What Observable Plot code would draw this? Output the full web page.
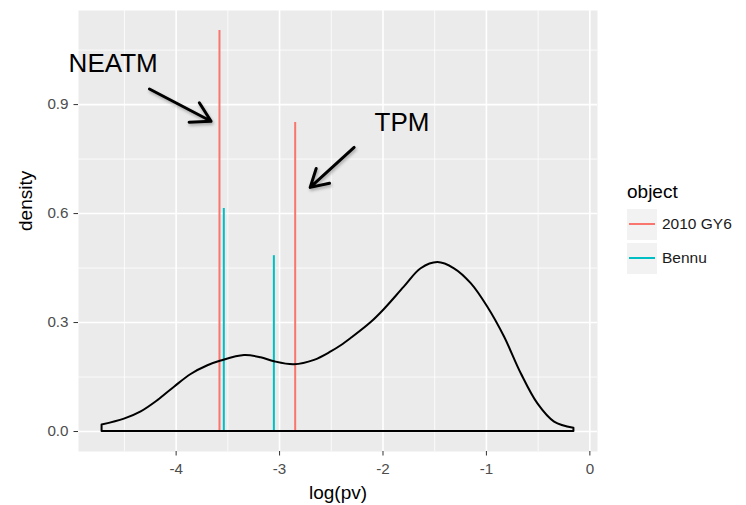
<!DOCTYPE html>
<html>
<head>
<meta charset="utf-8">
<script src="https://cdn.jsdelivr.net/npm/d3@7"></script>
<script src="https://cdn.jsdelivr.net/npm/@observablehq/plot@0.6"></script>
<style>
  html, body { margin: 0; padding: 0; background: #ffffff; }
  #wrap { position: relative; width: 746px; height: 505px; font-family: "Liberation Sans", Arial, Helvetica, sans-serif; }
  #legend { position: absolute; left: 627px; top: 180px; }
  #legend .title { font-size: 19px; color: #000; line-height: 24px; height: 27px; }
  #legend .row { display: flex; align-items: center; height: 34px; }
  #legend .key { width: 30px; height: 31px; background: #F2F2F2; position: relative; }
  #legend .key span { position: absolute; left: 2px; right: 2px; top: 14.5px; height: 2px; }
  #legend .lab { font-size: 15.5px; color: #1a1a1a; margin-left: 5px; }
</style>
</head>
<body>
<div id="wrap"></div>
<script>
// ---- data ----
const densityX = [-4.716, -4.500, -4.338, -4.177, -4.016, -3.855, -3.693, -3.565, -3.339, -3.178, -3.049, -2.856, -2.662, -2.501, -2.404, -2.308, -2.114, -1.986, -1.792, -1.631, -1.469, -1.309, -1.147, -0.986, -0.825, -0.663, -0.502, -0.341, -0.154];
const densityY = [0.018, 0.034, 0.054, 0.085, 0.122, 0.157, 0.181, 0.194, 0.209, 0.203, 0.192, 0.184, 0.196, 0.219, 0.236, 0.256, 0.300, 0.336, 0.398, 0.448, 0.465, 0.448, 0.407, 0.342, 0.260, 0.159, 0.076, 0.026, 0.009];

const objectNames = ["2010 GY6", "Bennu"];
const objectColors = ["#F8766D", "#00BFC4"];
const lineObject = ["2010 GY6", "2010 GY6", "Bennu", "Bennu"];
const lineX = [-3.581, -2.849, -3.539, -3.055];
const lineTop = [1.104, 0.851, 0.614, 0.484];

const xTicks = [-4, -3, -2, -1, 0];
const xMinor = [-4.5, -3.5, -2.5, -1.5, -0.5];
const yTicks = [0, 0.3, 0.6, 0.9];
const yMinor = [0.15, 0.45, 0.75, 1.05];

const noteText = ["NEATM", "TPM"];
const noteX = [-4.609, -1.816];
const noteY = [1.013, 0.851];
const arrowX1 = [-4.258, -2.279];
const arrowY1 = [0.943, 0.782];
const arrowX2 = [-3.662, -2.704];
const arrowY2 = [0.854, 0.672];

const xLabel = "log(pv)";
const yLabel = "density";
const legendTitle = "object";

// ---- tables ----
const density = densityX.map((x, i) => ({x, y: densityY[i]}));
const lines = lineX.map((x, i) => ({x, top: lineTop[i], object: lineObject[i]}));
const notes = noteText.map((t, i) => ({t, x: noteX[i], y: noteY[i]}));
const arrows = arrowX1.map((x1, i) => ({x1, y1: arrowY1[i], x2: arrowX2[i], y2: arrowY2[i]}));

const chart = Plot.plot({
  width: 746,
  height: 505,
  marginLeft: 78,
  marginRight: 149,
  marginTop: 10,
  marginBottom: 54,
  style: {fontFamily: '"Liberation Sans", Arial, Helvetica, sans-serif', background: "#ffffff", overflow: "visible"},
  x: {domain: [-4.944, 0.074]},
  y: {domain: [-0.055, 1.159]},
  color: {domain: objectNames, range: objectColors},
  marks: [
    Plot.frame({fill: "#EBEBEB", stroke: null}),
    Plot.gridX(xMinor, {stroke: "#ffffff", strokeOpacity: 1, strokeWidth: 0.8}),
    Plot.gridY(yMinor, {stroke: "#ffffff", strokeOpacity: 1, strokeWidth: 0.8}),
    Plot.gridX(xTicks, {stroke: "#ffffff", strokeOpacity: 1, strokeWidth: 1.6}),
    Plot.gridY(yTicks, {stroke: "#ffffff", strokeOpacity: 1, strokeWidth: 1.6}),
    Plot.ruleX(lines, {x: "x", y1: 0, y2: "top", stroke: "object", strokeWidth: 2}),
    Plot.areaY(density, {x: "x", y: "y", fill: "none", stroke: "#000000", strokeWidth: 2, curve: "catmull-rom"}),
    Plot.text(notes, {x: "x", y: "y", text: "t", fontSize: 26, fill: "#000000"}),
    Plot.arrow(arrows, {x1: "x1", y1: "y1", x2: "x2", y2: "y2", stroke: "#000000", strokeWidth: 3, headLength: 11, insetEnd: 0, insetStart: 0}),
    Plot.axisX(xTicks, {tickSize: 4.5, tickFormat: () => "", label: null, stroke: "#333333"}),
    Plot.axisX(xTicks, {tickSize: 0, tickPadding: 11.5, tickFormat: d => String(d), label: null, fill: "#4D4D4D", fontSize: 15.2}),
    Plot.axisY(yTicks, {tickSize: 4.5, tickFormat: () => "", label: null, stroke: "#333333"}),
    Plot.axisY(yTicks, {tickSize: 0, tickPadding: 10, tickFormat: d => d.toFixed(1), label: null, fill: "#4D4D4D", fontSize: 15.2}),
    Plot.text([xLabel], {frameAnchor: "bottom", dy: 47, text: d => d, lineAnchor: "bottom", fontSize: 19, fill: "#000000"}),
    Plot.text([yLabel], {frameAnchor: "left", dx: -53, text: d => d, rotate: -90, fontSize: 19, fill: "#000000"})
  ]
});

const wrap = document.getElementById("wrap");
wrap.appendChild(chart);
const arrowG = chart.querySelector('g[aria-label="arrow"]');
if (arrowG) arrowG.style.filter = "drop-shadow(1px 2px 1.5px rgba(0,0,0,0.3))";

// legend (HTML overlay)
const legend = document.createElement("div");
legend.id = "legend";
const t = document.createElement("div");
t.className = "title";
t.textContent = legendTitle;
legend.appendChild(t);
objectNames.forEach((name, i) => {
  const row = document.createElement("div");
  row.className = "row";
  const key = document.createElement("div");
  key.className = "key";
  const ln = document.createElement("span");
  ln.style.background = objectColors[i];
  key.appendChild(ln);
  const lab = document.createElement("div");
  lab.className = "lab";
  lab.textContent = name;
  row.appendChild(key);
  row.appendChild(lab);
  legend.appendChild(row);
});
wrap.appendChild(legend);
</script>
</body>
</html>
